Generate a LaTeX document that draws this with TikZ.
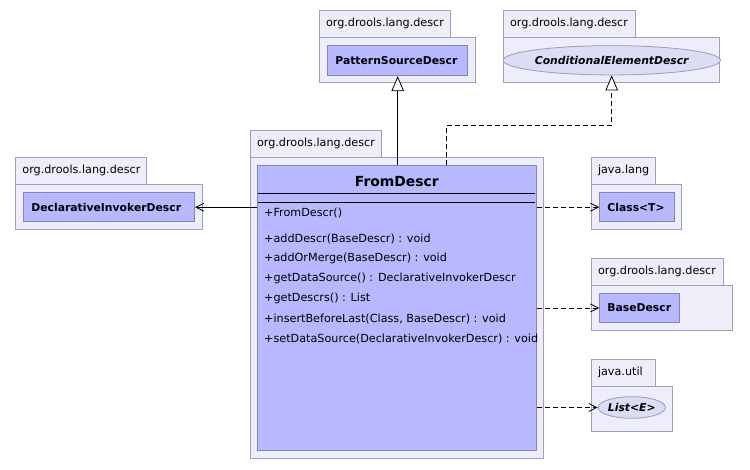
\documentclass[tikz,border=0pt]{standalone}
\usepackage{fontspec}
\setmainfont{DejaVu Sans}
\usetikzlibrary{arrows.meta,shapes.geometric}
\definecolor{pkgfill}{HTML}{EEEEFA}
\definecolor{pkgdraw}{HTML}{A0A0B4}
\definecolor{clsfill}{HTML}{B8B8FF}
\definecolor{clsdraw}{HTML}{8484B8}
\definecolor{ifill}{HTML}{DCDCF5}
\definecolor{idraw}{HTML}{9C9CBC}
\newcommand\umlpkg[8]{%
  \draw[pkgbox] (#1,#2) rectangle (#3,#4);
  \draw[pkgbox] (#1,#4) rectangle (#5,#6);
  \node[pkglabel] (#8) at ({#1+6.5},{(#2+#4)/2}) {#7};}
\begin{document}
\begin{tikzpicture}[x=1pt,y=-1pt,
  pkgbox/.style={draw=pkgdraw,fill=pkgfill,line width=0.8pt},
  pkglabel/.style={anchor=west,inner sep=0pt,font=\fontsize{11.2}{13}\selectfont},
  cls/.style={draw=clsdraw,fill=clsfill,line width=0.8pt,anchor=north west,
    inner ysep=0pt,inner xsep=7.7pt,align=left,
    font=\bfseries\fontsize{10.8}{13}\selectfont},
  iface/.style={ellipse,draw=idraw,fill=ifill,line width=0.8pt,inner sep=0pt,
    font=\bfseries\itshape\fontsize{10.8}{13}\selectfont},
  member/.style={anchor=west,inner sep=0pt,font=\fontsize{11.2}{13}\selectfont},
  sepline/.style={draw=black,line width=0.9pt},
  assoc/.style={draw=black,line width=0.8pt,-{Straight Barb[length=8pt,width=8pt]}},
  dep/.style={assoc,dash pattern=on 5pt off 3pt},
  gen/.style={draw=black,line width=0.8pt,-{Triangle[open,length=15pt,width=12.5pt,fill=white]}},
  real/.style={gen,dash pattern=on 5pt off 3pt}]
\useasboundingbox (0,0) rectangle (750,469);
% packages
\umlpkg{250.3}{130.3}{381.7}{157.3}{543.3}{458.3}{org.drools.lang.descr}{lmain}
\umlpkg{319.3}{10}{450.7}{37.3}{475}{82.7}{org.drools.lang.descr}{lps}
\umlpkg{503.3}{10}{635}{37.3}{719.3}{82.7}{org.drools.lang.descr}{lced}
\umlpkg{15.7}{157.3}{146.7}{184.3}{202.3}{229.3}{org.drools.lang.descr}{ldec}
\umlpkg{591.3}{157.3}{655.3}{184.3}{681.7}{229.3}{java.lang}{ljl}
\umlpkg{591.3}{258.3}{723.3}{285.3}{732.3}{330.3}{org.drools.lang.descr}{lbase}
\umlpkg{591.3}{359.3}{655.3}{386.3}{672.7}{431.3}{java.util}{lju}
% classes
\node[cls,text width=124.6pt,minimum height=30.3pt] (ps) at (327.3,45) {PatternSourceDescr};
\node[cls,text width=155.6pt,minimum height=29pt] (dec) at (23.3,192.3) {DeclarativeInvokerDescr};
\node[cls,text width=59.6pt,minimum height=29pt] (clsT) at (599.3,192.3) {Class<T>};
\node[cls,text width=64.6pt,minimum height=29.6pt] (base) at (599.3,292.7) {BaseDescr};
\node[iface,minimum width=202pt,minimum height=29.3pt] (ced) at (611.7,60.3) {ConditionalElementDescr};
\node[iface,minimum width=65pt,minimum height=21.6pt] (list) at (631.8,407.5) {List<E>};
% main class
\node[draw=clsdraw,fill=clsfill,line width=0.8pt,anchor=north west,inner sep=0pt,
  minimum width=279pt,minimum height=285.3pt] (fd) at (257.3,165) {};
\node[font=\bfseries\fontsize{13.9}{16}\selectfont,inner sep=0pt] (fdname) at (396.8,181.7) {FromDescr};
\draw[sepline] (258.3,193) -- (535.3,193);
\draw[sepline] (258.3,202) -- (535.3,202);
\node[member] (m0) at (264,212.7) {+FromDescr()};
\node[member] (m1) at (264,238.5) {+addDescr(BaseDescr) : void};
\node[member] (m2) at (264,258.5) {+addOrMerge(BaseDescr) : void};
\node[member] (m3) at (264,278.5) {+getDataSource() : DeclarativeInvokerDescr};
\node[member] (m4) at (264,298.5) {+getDescrs() : List};
\node[member] (m5) at (264,318.5) {+insertBeforeLast(Class, BaseDescr) : void};
\node[member] (m6) at (264,338.5) {+setDataSource(DeclarativeInvokerDescr) : void};
% connectors
\draw[assoc] (fd.west |- dec.east) -- (dec.east);
\draw[dep] (fd.east |- clsT.west) -- (clsT.west);
\draw[dep] (fd.east |- base.west) -- (base.west);
\draw[dep] (fd.east |- list.west) -- (list.west);
\draw[gen] (fd.north -| ps.south) -- (ps.south);
\coordinate (rb) at (446.7,125.7);
\draw[real] (fd.north -| rb) -- (rb) -| (ced.south);
\end{tikzpicture}
\end{document}
